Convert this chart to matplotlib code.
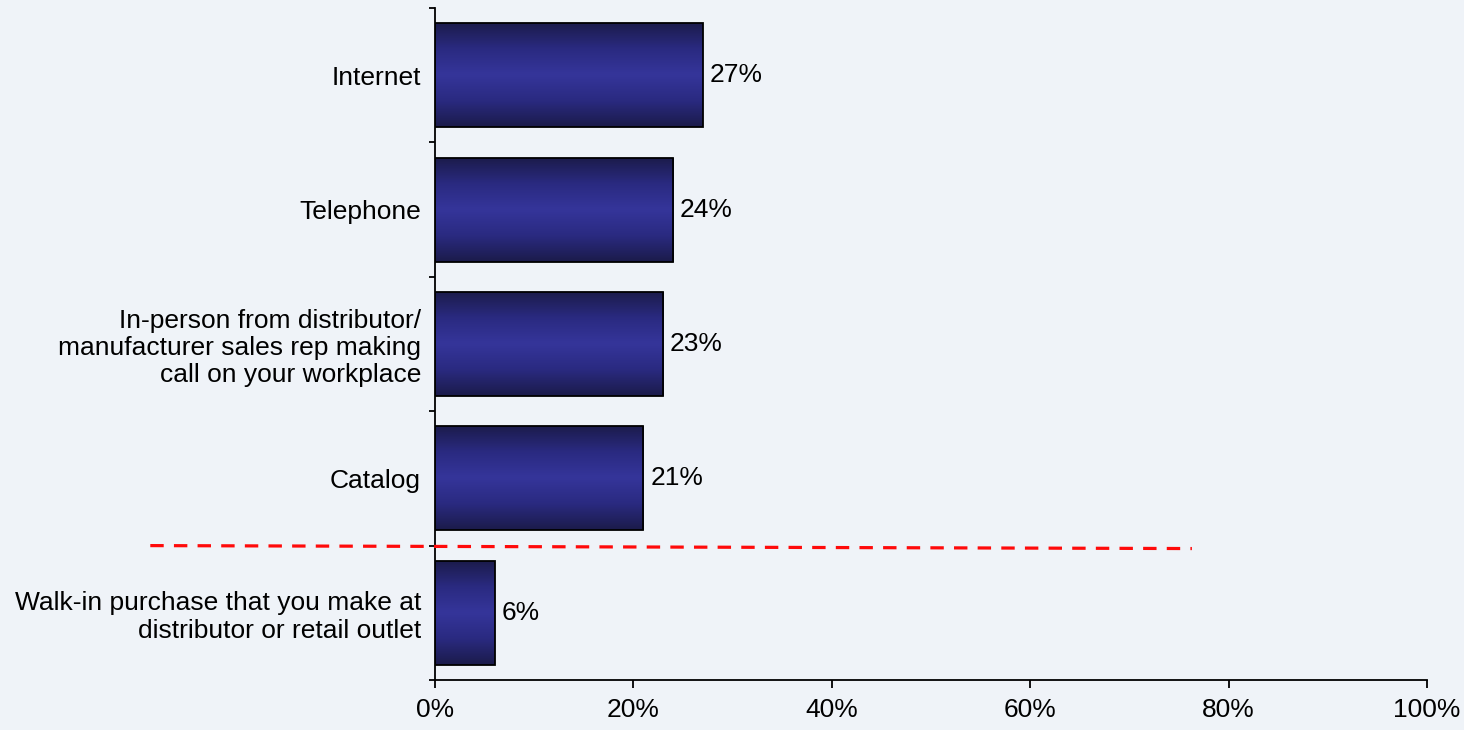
import numpy as np
import matplotlib
matplotlib.use("Agg")
import matplotlib.pyplot as plt
from matplotlib.colors import LinearSegmentedColormap

# Purchase channels (top to bottom) and share of respondents
channels = [
    "Internet",
    "Telephone",
    "In-person from distributor/\nmanufacturer sales rep making\ncall on your workplace",
    "Catalog",
    "Walk-in purchase that you make at\ndistributor or retail outlet",
]
shares = [27, 24, 23, 21, 6]
xticks = [0, 20, 40, 60, 80, 100]
xtick_labels = [f"{v}%" for v in xticks]

plt.rcParams["font.family"] = ["Liberation Sans", "DejaVu Sans"]

BG = "#eff3f8"
FS = 19
fig = plt.figure(figsize=(14.64, 7.30), dpi=100, facecolor=BG)
ax = fig.add_axes([435 / 1464, 1 - 680 / 730, (1427 - 435) / 1464, (680 - 8) / 730])
ax.set_facecolor("none")

n = len(channels)
ypos = np.arange(n)[::-1]  # first channel at the top

bars = ax.barh(ypos, shares, height=0.775, color="none",
               edgecolor="black", linewidth=1.3, zorder=3)

# vertical shading: dark navy at top/bottom edges, brighter blue in the middle
shade = LinearSegmentedColormap.from_list(
    "navy_shade", ["#1b1b4a", "#2a2a80", "#35359a", "#2a2a80", "#1b1b4a"])
grad = np.linspace(0, 1, 256).reshape(-1, 1)
for b in bars:
    x0, y0 = b.get_x(), b.get_y()
    w, h = b.get_width(), b.get_height()
    im = ax.imshow(grad, cmap=shade, aspect="auto", origin="lower",
                   extent=(x0, x0 + w, y0, y0 + h), zorder=2,
                   interpolation="bicubic")
    im.set_clip_path(b)

for y, v in zip(ypos, shares):
    ax.text(v + 0.7, y, f"{v}%", va="center", ha="left", fontsize=FS,
            color="black", zorder=4)

ax.set_xlim(0, 100)
ax.set_ylim(-0.5, n - 0.5)

ax.set_xticks(xticks)
ax.set_xticklabels(xtick_labels, fontsize=FS)
ax.tick_params(axis="x", direction="out", length=6, width=1.3, pad=7)

ax.set_yticks(ypos)
ax.set_yticklabels(channels, fontsize=FS, linespacing=1.17)
ax.tick_params(axis="y", which="major", length=0, pad=10)
ax.set_yticks(np.arange(-0.5, n, 1.0), minor=True)
ax.tick_params(axis="y", which="minor", direction="out", length=4, width=1.3)

for side in ("top", "right"):
    ax.spines[side].set_visible(False)
for side in ("left", "bottom"):
    ax.spines[side].set_linewidth(1.3)
    ax.spines[side].set_zorder(5)

# separator between the remote channels and walk-in purchases
ax.plot([-28.7, 76.3], [0.5, 0.478], color="#ff0a0a", linewidth=2.3,
        linestyle=(0, (4.2, 3.2)), clip_on=False, zorder=6)

fig.savefig("out.png", dpi=100, facecolor=BG)
